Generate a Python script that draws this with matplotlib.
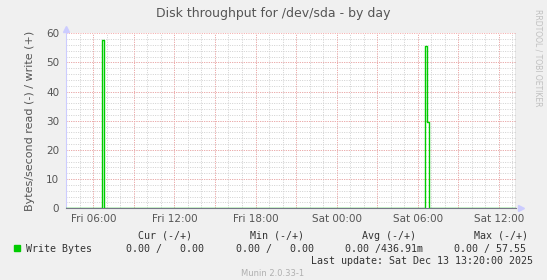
import matplotlib
matplotlib.use("Agg")
import matplotlib.pyplot as plt

# time axis in hours since Fri 00:00
x_start = 4.0
x_end = 37.25
sample_hours = [4.0, 6.62, 6.80, 30.56, 30.71, 30.83, 37.25]
write_bytes = [0, 57.55, 0, 55.7, 29.5, 0, 0]

tick_hours = [6, 12, 18, 24, 30, 36]
tick_labels = ["Fri 06:00", "Fri 12:00", "Fri 18:00", "Sat 00:00", "Sat 06:00", "Sat 12:00"]
y_ticks = [0, 10, 20, 30, 40, 50, 60]

headers = ["Cur (-/+)", "Min (-/+)", "Avg (-/+)", "Max (-/+)"]
values = ["0.00 /   0.00", "0.00 /   0.00", "0.00 /436.91m", "0.00 / 57.55"]

W, H = 547, 280
bg = "#f0f0f0"
txt = "#555555"
green = "#00cc00"

fig = plt.figure(figsize=(W / 100, H / 100), dpi=100, facecolor=bg)
ax = fig.add_axes([66.3 / W, 71.7 / H, 449.4 / W, 175 / H])
ax.set_facecolor("white")

# grid: minor gray every 1h / 2 units, major red every 3h / 10 units
dots = (0, (1, 1.4))
for h in range(5, 38):
    ax.axvline(h, color="#d0d0d0", lw=0.7, ls=dots, zorder=1)
for v in range(2, 60, 2):
    ax.axhline(v, color="#d0d0d0", lw=0.7, ls=dots, zorder=1)
for h in range(6, 38, 3):
    ax.axvline(h, color="#f4a4a4", lw=0.7, ls=dots, zorder=2)
for v in y_ticks[1:]:
    ax.axhline(v, color="#f4a4a4", lw=0.7, ls=dots, zorder=2)

ax.plot(sample_hours, write_bytes, drawstyle="steps-post", color=green, lw=1.0, zorder=3)
ax.axvline(x_end, color="#888888", lw=1.0, zorder=4)

ax.set_xlim(x_start, x_end)
ax.set_ylim(0, 60)
ax.set_xticks(tick_hours)
ax.set_xticklabels(tick_labels)
ax.set_yticks(y_ticks)
ax.tick_params(axis="both", length=0, labelsize=7.5, colors=txt)
ax.tick_params(axis="x", pad=4)
ax.tick_params(axis="y", pad=5)

for s in ["top", "right"]:
    ax.spines[s].set_visible(False)
ax.spines["left"].set_color("#ccccff")
ax.spines["left"].set_linewidth(0.8)
ax.spines["bottom"].set_color("#777788")
ax.spines["bottom"].set_linewidth(0.8)
ax.plot([0], [1.025], marker="^", color="#ccccff", ms=4, transform=ax.transAxes, clip_on=False)
ax.plot([1.012], [0], marker=">", color="#ccccff", ms=4, transform=ax.transAxes, clip_on=False)

ax.set_ylabel("Bytes/second read (-) / write (+)", fontsize=8, color=txt, labelpad=8)


def px(x, y, s, va="center", **kw):
    fig.text(x / W, 1 - y / H, s, va=va, **kw)


px(273, 13, "Disk throughput for /dev/sda - by day", ha="center", fontsize=9, color=txt)
px(538, 9, "RRDTOOL / TOBI OETIKER", ha="center", va="top", rotation=270,
   fontsize=5.5, color="#c0c0c0")

mono = dict(family="DejaVu Sans Mono", fontsize=7.2, color="#333333")
for xh, h in zip([138.5, 250.5, 361.8, 473.5], headers):
    px(xh, 236, h, ha="left", **mono)
for xv, v in zip([126.3, 235.9, 344.7, 453.6], values):
    px(xv, 248.7, v, ha="left", **mono)
fig.patches.append(plt.Rectangle((14 / W, 1 - 251 / H), 6 / W, 6 / H,
                                 transform=fig.transFigure, color=green))
px(26.2, 248.7, "Write Bytes", ha="left", **mono)
px(533.1, 261.3, "Last update: Sat Dec 13 13:20:00 2025", ha="right", **mono)
px(273, 273.5, "Munin 2.0.33-1", ha="center", fontsize=6, color="#b0b0b0")

fig.savefig("out.png", dpi=100, facecolor=bg)
